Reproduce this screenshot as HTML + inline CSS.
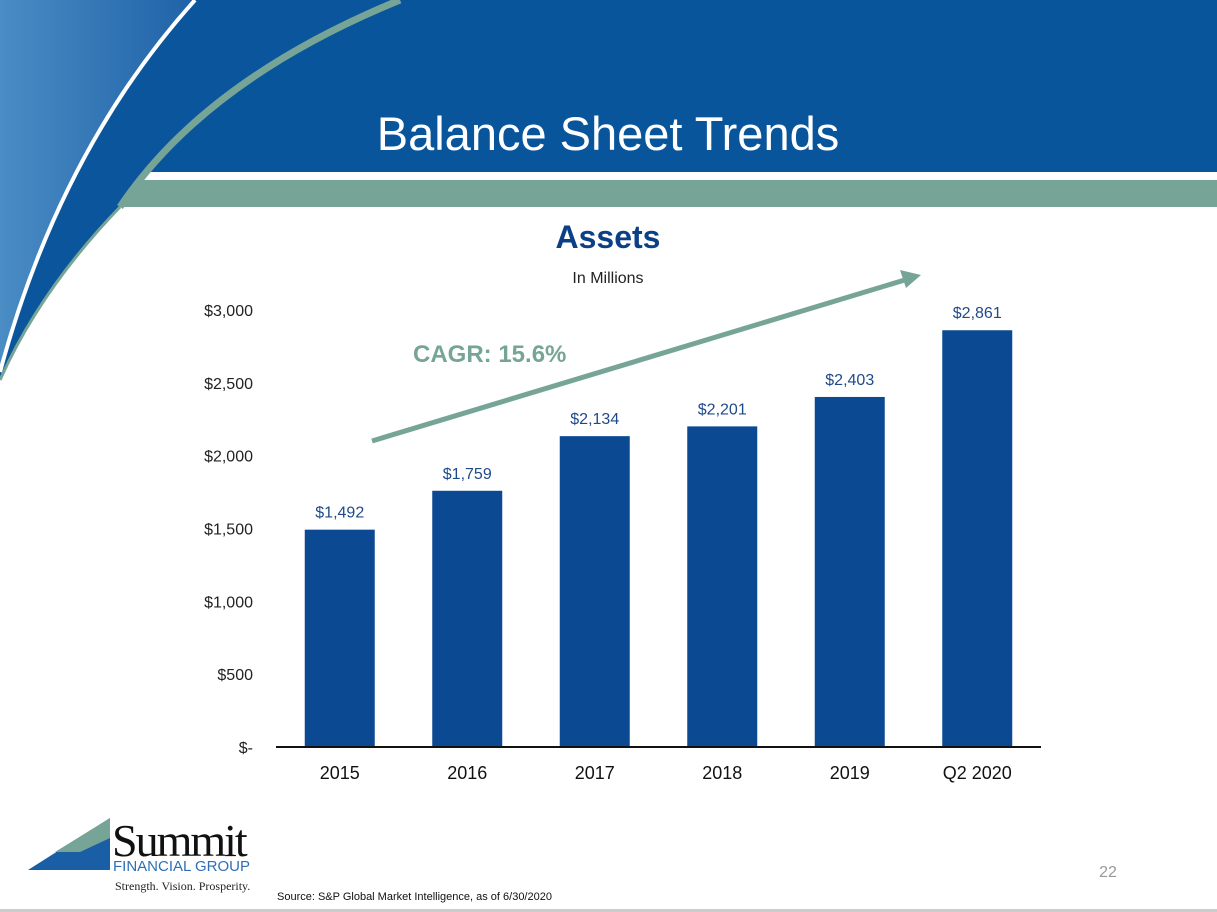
<!DOCTYPE html>
<html><head><meta charset="utf-8"><style>
body{margin:0;width:1217px;height:912px;overflow:hidden;background:#fff;font-family:"Liberation Sans",sans-serif}
svg{position:absolute;left:0;top:0}
</style></head><body>
<svg width="1217" height="912">
<defs><linearGradient id="lg" x1="0" x2="1" y1="0" y2="0"><stop offset="0" stop-color="#4a8cc4"/><stop offset="1" stop-color="#1f62a8"/></linearGradient></defs>
<g>
<rect x="0" y="0" width="1217" height="172" fill="#08559c"/>
<rect x="0" y="172" width="1217" height="8" fill="#ffffff"/>
<rect x="0" y="180" width="1217" height="27" fill="#76a598"/>
<path d="M400,0 Q205,80 120,207 Q40,290 0,380 L0,0 Z" fill="#0a559c"/>
<path d="M195,0 Q60,150 0,372 L0,0 Z" fill="url(#lg)"/>
<path d="M195,0 Q60,150 0,372" stroke="#fff" stroke-width="4" fill="none"/>
<path d="M400,0 Q205,80 120,207" stroke="#76a598" stroke-width="7" fill="none"/>
<path d="M120,207 Q40,290 0,380" stroke="#76a598" stroke-width="3" fill="none"/>
</g>
<text x="608" y="150" text-anchor="middle" fill="#fff" font-size="47">Balance Sheet Trends</text>
<text x="608" y="248" text-anchor="middle" fill="#0b3f86" font-size="32" font-weight="bold">Assets</text>
<text x="608" y="283" text-anchor="middle" fill="#222" font-size="16">In Millions</text>
<g id="chart"></g>
<line x1="372" y1="441" x2="908" y2="279" stroke="#76a598" stroke-width="5"/>
<polygon points="921,275 900,270 906,288" fill="#76a598"/>
<text x="413" y="362" fill="#76a598" font-size="24" font-weight="bold">CAGR: 15.6%</text>
<g>
<polygon points="28,870 110,818 110,870" fill="#1a5fa6"/>
<polygon points="55,852 110,818 110,838 80,852" fill="#76a598"/>
<text x="112" y="856" font-family="Liberation Serif,serif" font-size="46" fill="#111" letter-spacing="-2">Summit</text>
<text x="113" y="871" font-size="15" fill="#2f6fb5">FINANCIAL GROUP</text>
<text x="115" y="890" font-family="Liberation Serif,serif" font-size="12" fill="#222">Strength. Vision. Prosperity.</text>
</g>
<text x="277" y="900" font-size="11" fill="#111">Source: S&amp;P Global Market Intelligence, as of 6/30/2020</text>
<text x="1108" y="877" text-anchor="middle" font-size="16" fill="#999">22</text>
<rect x="0" y="909" width="1217" height="3" fill="#ccc"/>
</svg>
<script>
const categories=["2015","2016","2017","2018","2019","Q2 2020"];
const values=[1492,1759,2134,2201,2403,2861];
const valueLabels=["$1,492","$1,759","$2,134","$2,201","$2,403","$2,861"];
const ticks=[0,500,1000,1500,2000,2500,3000];
const tickLabels=["$-","$500","$1,000","$1,500","$2,000","$2,500","$3,000"];
const g=document.getElementById('chart');const NS="http://www.w3.org/2000/svg";
const x0=276,x1=1041,y0=747,y1=310,band=(x1-x0)/categories.length,bw=70;
const y=v=>y0-(v/3000)*(y0-y1);
const cx=i=>x0+band*(i+0.5);
function mk(t,a,txt){const e=document.createElementNS(NS,t);for(const k in a)e.setAttribute(k,a[k]);if(txt!=null)e.textContent=txt;g.appendChild(e);return e;}
ticks.forEach((t,i)=>{const e=mk('text',{x:253,y:y(t)+6,'text-anchor':'end','font-size':16,fill:'#222'},tickLabels[i]);

});
values.forEach((v,i)=>{const r=mk('rect',{x:cx(i)-bw/2,y:y(v),width:bw,height:y0-y(v),fill:'#0b4a92'});


const l=mk('text',{x:cx(i),y:y(v)-12,'text-anchor':'middle','font-size':16,fill:'#1f4a8a'},valueLabels[i]);


const c=mk('text',{x:cx(i),y:779,'text-anchor':'middle','font-size':18,fill:'#111'},categories[i]);

});
const ax=mk('line',{x1:x0,x2:x1,y1:y0,y2:y0,stroke:'#111','stroke-width':2});


</script>
</body></html>
